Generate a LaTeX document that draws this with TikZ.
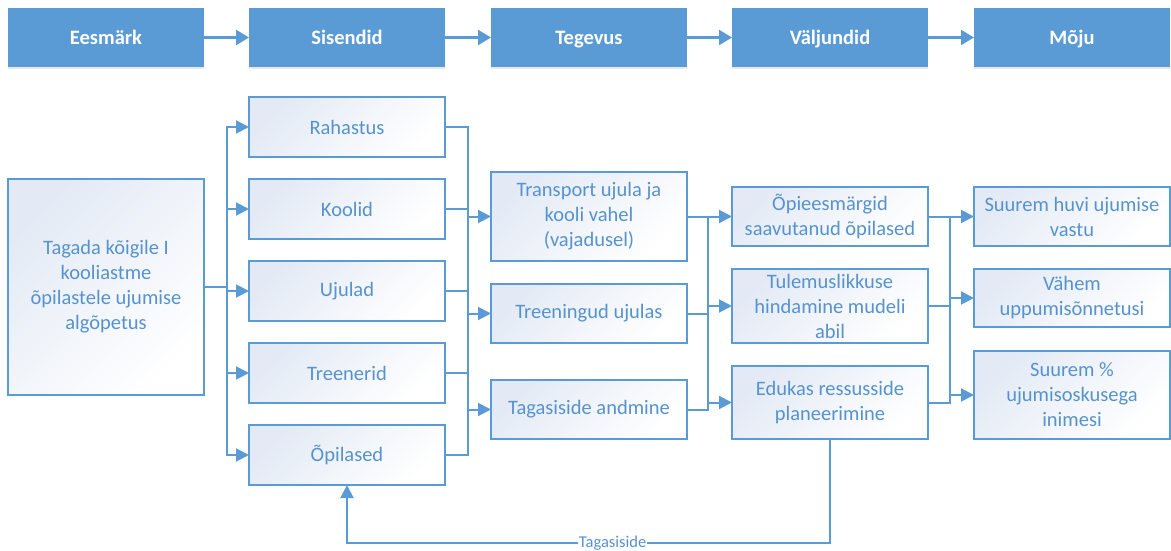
\documentclass[tikz,border=0pt]{standalone}
\usepackage{fontspec}
\setmainfont{Carlito}
\usetikzlibrary{arrows.meta,shadows}
\definecolor{ofblue}{HTML}{5B9BD5}
\definecolor{txtblue}{HTML}{5693CE}
\definecolor{boxtop}{HTML}{E3EAF5}

\tikzset{
  hdr/.style={anchor=north west, minimum width=196pt, minimum height=59pt,
    fill=ofblue, text=white, outer sep=0pt, text height=13.2pt, text depth=0pt,
    font=\fontsize{20.5}{25}\selectfont\bfseries,
    drop shadow={opacity=0.18, shadow xshift=0pt, shadow yshift=-2pt}},
  bx/.style={anchor=north west, minimum width=196pt, draw=ofblue, line width=1.5pt,
    top color=boxtop, bottom color=white, shading angle=45,
    text=txtblue, align=center, inner sep=2pt, outer sep=0pt,
    font=\fontsize{20.5}{25}\selectfont},
  conn/.style={draw=ofblue, line width=2pt},
  arr/.style={conn, -{Triangle[length=13pt,width=13pt]}},
  harr/.style={draw=ofblue, line width=2.5pt, -{Triangle[length=13pt,width=15pt]}},
}

\begin{document}
\begin{tikzpicture}[x=1pt, y=-1pt]
\useasboundingbox (0,0) rectangle (1171,551);

% header row
\node[hdr] (h1) at (8,8)   {Eesmärk};
\node[hdr] (h2) at (249,8) {Sisendid};
\node[hdr] (h3) at (491,8) {Tegevus};
\node[hdr] (h4) at (732,8) {Väljundid};
\node[hdr] (h5) at (974,8) {Mõju};
\draw[harr] (h1.east) -- (h2.west);
\draw[harr] (h2.east) -- (h3.west);
\draw[harr] (h3.east) -- (h4.west);
\draw[harr] (h4.east) -- (h5.west);

% goal
\node[bx, minimum height=216pt] (goal) at (8,179)
  {Tagada kõigile I\\kooliastme\\õpilastele ujumise\\algõpetus};

% inputs
\node[bx, minimum height=60pt] (rah) at (249,97)  {Rahastus};
\node[bx, minimum height=60pt] (koo) at (249,179) {Koolid};
\node[bx, minimum height=60pt] (uju) at (249,261) {Ujulad};
\node[bx, minimum height=60pt] (tre) at (249,343) {Treenerid};
\node[bx, minimum height=60pt] (opi) at (249,425) {Õpilased};

% activities
\node[bx, minimum height=89pt] (tra) at (491,172) {Transport ujula ja\\kooli vahel\\(vajadusel)};
\node[bx, minimum height=59pt] (tru) at (491,284) {Treeningud ujulas};
\node[bx, minimum height=59pt] (tag) at (491,380) {Tagasiside andmine};

% outputs
\node[bx, minimum height=59pt] (ope) at (732,187) {Õpieesmärgid\\saavutanud õpilased};
\node[bx, minimum height=74pt] (tul) at (732,269) {Tulemuslikkuse\\hindamine mudeli\\abil};
\node[bx, minimum height=73pt] (edu) at (732,366) {Edukas ressusside\\planeerimine};

% impact
\node[bx, minimum height=59pt] (huv) at (974,187) {Suurem huvi ujumise\\vastu};
\node[bx, minimum height=58pt] (vah) at (974,269) {Vähem\\uppumisõnnetusi};
\node[bx, minimum height=88pt] (osk) at (974,351) {Suurem \%\\ujumisoskusega\\inimesi};

% bus positions
\coordinate (tA) at (227,0);
\coordinate (tB) at (468,0);
\coordinate (tC) at (708,0);
\coordinate (tD) at (950,0);

% goal -> inputs
\draw[conn] (goal.east) -- (tA |- goal.east);
\draw[arr, {Triangle[length=13pt,width=13pt]}-{Triangle[length=13pt,width=13pt]}]
  (rah.west) -| (tA |- opi.west) -- (opi.west);
\draw[arr] (tA |- koo.west) -- (koo.west);
\draw[arr] (tA |- uju.west) -- (uju.west);
\draw[arr] (tA |- tre.west) -- (tre.west);

% inputs -> activities
\draw[conn] (rah.east) -| (tB |- opi.east) -- (opi.east);
\draw[conn] (koo.east) -- (tB |- koo.east);
\draw[conn] (uju.east) -- (tB |- uju.east);
\draw[conn] (tre.east) -- (tB |- tre.east);
\draw[arr] (tB |- tra.west) -- (tra.west);
\draw[arr] (tB |- tru.west) -- (tru.west);
\draw[arr] (tB |- tag.west) -- (tag.west);

% activities -> outputs
\draw[conn] (tra.east) -| (tC |- tag.east) -- (tag.east);
\draw[conn] (tru.east) -- (tC |- tru.east);
\draw[arr] (tC |- ope.west) -- (ope.west);
\draw[arr] (tC |- tul.west) -- (tul.west);
\draw[arr] (tC |- edu.west) -- (edu.west);

% outputs -> impact
\draw[conn] (ope.east) -| (tD |- edu.east) -- (edu.east);
\draw[conn] (tul.east) -- (tD |- tul.east);
\draw[arr] (tD |- huv.west) -- (huv.west);
\draw[arr] (tD |- vah.west) -- (vah.west);
\draw[arr] (tD |- osk.west) -- (osk.west);

% feedback loop
\draw[arr] (edu.south) -- ++(0,104) -| (opi.south)
  node[pos=0.225, fill=white, inner sep=1pt, text=txtblue,
       font=\fontsize{16.5}{18}\selectfont] (fbl) {Tagasiside};
\end{tikzpicture}
\end{document}
